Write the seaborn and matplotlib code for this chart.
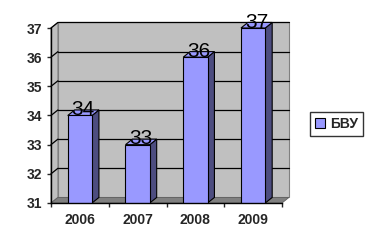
import matplotlib
matplotlib.use("Agg")
import matplotlib.pyplot as plt
from matplotlib.patches import Polygon
from matplotlib.lines import Line2D
import seaborn as sns
import pandas as pd

years = ["2006", "2007", "2008", "2009"]
values = [34, 33, 36, 37]
series_name = "БВУ"
y_ticks = [31, 32, 33, 34, 35, 36, 37]

sns.set_style("white")
plt.rcParams["font.family"] = ["Liberation Sans", "DejaVu Sans"]

FRONT = "#9999FF"
SIDE = "#4D4D80"
WALL = "#C0C0C0"
FLOOR = "#808080"

fig = plt.figure(figsize=(3.72, 2.48), dpi=100)
ax = fig.add_axes([51 / 372, 45 / 248, 231 / 372, 175 / 248])

df = pd.DataFrame({"year": years, "value": values})
sns.barplot(data=df, x="year", y="value", color=FRONT, edgecolor="black",
            linewidth=0.8, width=0.42, saturation=1, ax=ax, zorder=5)

ymin, ymax = y_ticks[0], y_ticks[-1]
xmin, xmax = -0.5, len(years) - 0.5
ax.set_xlim(xmin, xmax)
ax.set_ylim(ymin, ymax)
dx, dy = 0.12, 0.19

# back wall
ax.add_patch(Polygon([(xmin + dx, ymin + dy), (xmax + dx, ymin + dy),
                      (xmax + dx, ymax + dy), (xmin + dx, ymax + dy)],
                     closed=True, facecolor=WALL, edgecolor="#808080",
                     linewidth=0.8, zorder=0, clip_on=False))
# left wall
ax.add_patch(Polygon([(xmin, ymin), (xmin + dx, ymin + dy),
                      (xmin + dx, ymax + dy), (xmin, ymax)],
                     closed=True, facecolor=WALL, edgecolor="#808080",
                     linewidth=0.8, zorder=0.5, clip_on=False))
# floor
ax.add_patch(Polygon([(xmin, ymin), (xmax, ymin), (xmax + dx, ymin + dy),
                      (xmin + dx, ymin + dy)],
                     closed=True, facecolor=FLOOR, edgecolor="#606060",
                     linewidth=0.6, zorder=1, clip_on=False))
# gridlines
for t in y_ticks[1:]:
    ax.add_line(Line2D([xmin + dx, xmax + dx], [t + dy, t + dy], color="black",
                       linewidth=0.9, zorder=1.5, clip_on=False))
    ax.add_line(Line2D([xmin, xmin + dx], [t, t + dy], color="black",
                       linewidth=0.9, zorder=1.5, clip_on=False))

# 3D faces of bars
for patch, v in zip(ax.patches[:len(values)], values):
    x0 = patch.get_x()
    x1 = x0 + patch.get_width()
    ax.add_patch(Polygon([(x1, ymin), (x1 + dx, ymin + dy), (x1 + dx, v + dy), (x1, v)],
                         closed=True, facecolor=SIDE, edgecolor="black",
                         linewidth=0.8, zorder=4, clip_on=False))
    ax.add_patch(Polygon([(x0, v), (x1, v), (x1 + dx, v + dy), (x0 + dx, v + dy)],
                         closed=True, facecolor=FRONT, edgecolor="black",
                         linewidth=0.8, zorder=4, clip_on=False))
    ax.text((x0 + x1) / 2 + dx / 2, v + 0.2, str(v), ha="center", va="center",
            fontsize=15, color="black", zorder=10, clip_on=False)

# axes styling
for s in ["top", "right"]:
    ax.spines[s].set_visible(False)
for s in ["left", "bottom"]:
    ax.spines[s].set_color("black")
    ax.spines[s].set_linewidth(1)
    ax.spines[s].set_zorder(6)
ax.set_yticks(y_ticks)
ax.set_yticklabels([str(t) for t in y_ticks], fontweight="bold", fontsize=10)
ax.set_xticks(range(len(years)))
ax.set_xticklabels(years, fontweight="bold", fontsize=10)
ax.set_xticks([i - 0.5 for i in range(len(years) + 1)], minor=True)
ax.tick_params(axis="y", direction="out", length=3, width=1, pad=3.5, left=True)
ax.tick_params(axis="x", which="major", length=0, pad=7)
ax.tick_params(axis="x", which="minor", direction="out", length=3, width=1, bottom=True)
ax.set_xlabel("")
ax.set_ylabel("")

handle = Polygon([(0, 0)], closed=True, facecolor=FRONT, edgecolor="black", linewidth=0.8)
leg = fig.legend([handle], [series_name], loc="center",
                 bbox_to_anchor=(336.5 / 372, 1 - 124 / 248),
                 prop={"weight": "bold", "size": 10}, frameon=True, fancybox=False,
                 handlelength=0.7, handleheight=0.7, handletextpad=0.4,
                 borderpad=0.35, borderaxespad=0)
leg.get_frame().set_edgecolor("black")
leg.get_frame().set_linewidth(1)

fig.savefig("out.png", dpi=100)
